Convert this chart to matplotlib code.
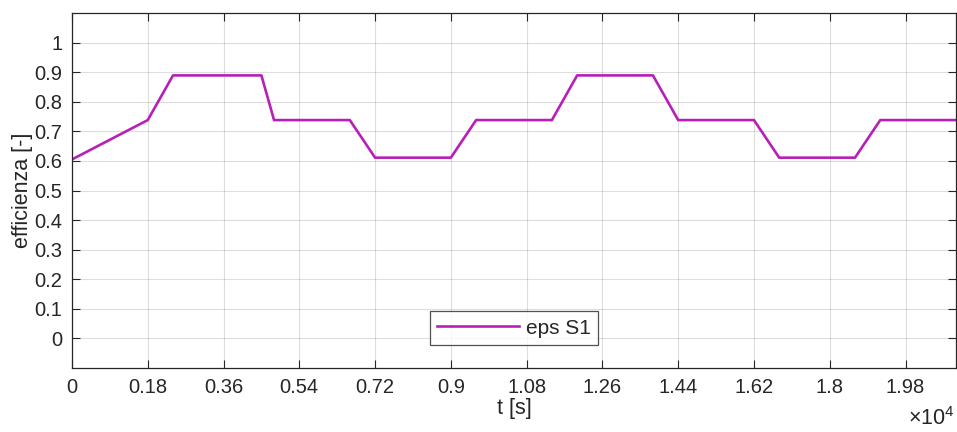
import matplotlib
matplotlib.use("Agg")
import matplotlib.pyplot as plt

# Efficiency profile of S1 over time
t_s = [0, 1800, 2400, 4500, 4800, 6600, 7200, 9000, 9600, 11400,
       12000, 13800, 14400, 16200, 16800, 18600, 19200, 21000]
eps_s1 = [0.605, 0.738, 0.889, 0.889, 0.738, 0.738, 0.611, 0.611, 0.738, 0.738,
          0.889, 0.889, 0.738, 0.738, 0.611, 0.611, 0.738, 0.738]

x_ticks = [0, 1800, 3600, 5400, 7200, 9000, 10800, 12600, 14400, 16200, 18000, 19800]
y_ticks = [0, 0.1, 0.2, 0.3, 0.4, 0.5, 0.6, 0.7, 0.8, 0.9, 1.0]

plt.rcParams['font.family'] = ['Liberation Sans', 'DejaVu Sans']
plt.rcParams['mathtext.fontset'] = 'custom'
plt.rcParams['mathtext.rm'] = 'Liberation Sans'
plt.rcParams['mathtext.it'] = 'Liberation Sans'

TXT = '#262626'

fig = plt.figure(figsize=(9.57, 4.32), dpi=100)
ax = fig.add_axes([0.0752, 0.148, 0.9238, 0.822])

ax.plot(t_s, eps_s1, color='#B81FB8', linewidth=1.9, label='eps S1')

ax.set_xlim(0, 21000)
ax.set_ylim(-0.1, 1.1)
ax.set_xticks(x_ticks)
ax.set_xticklabels([f"{v / 1e4:g}" for v in x_ticks])
ax.set_yticks(y_ticks)
ax.set_yticklabels([f"{v:g}" for v in y_ticks])

ax.tick_params(direction='in', length=6, width=0.8, colors=TXT,
               labelsize=14.5, top=True, right=True, pad=7)
for s in ax.spines.values():
    s.set_color(TXT)
    s.set_linewidth(0.9)

ax.grid(True, color='#262626', alpha=0.15, linewidth=0.8)

ax.set_xlabel('t [s]', fontsize=15.5, color=TXT, labelpad=1)
ax.set_ylabel('efficienza [-]', fontsize=15.5, color=TXT, labelpad=1)

# exponent label, MATLAB style
fig.text(0.997, 0.005, r'$\times10^{4}$', ha='right', va='bottom',
         fontsize=15.5, color=TXT)

leg = ax.legend(loc='lower center', bbox_to_anchor=(0.5, 0.065), fontsize=15,
                frameon=True, fancybox=False, edgecolor=TXT, borderaxespad=0,
                handlelength=3.9, borderpad=0.35, handletextpad=0.35)
leg.get_frame().set_linewidth(0.9)
for txt in leg.get_texts():
    txt.set_color(TXT)

fig.savefig('out.png', dpi=100)
